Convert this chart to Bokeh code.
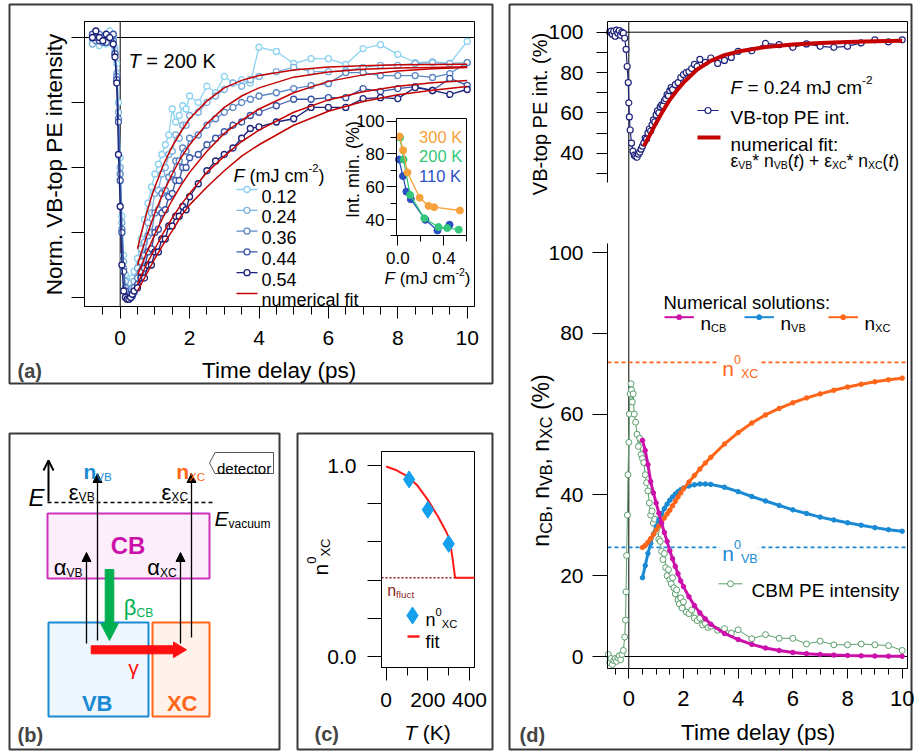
import math
from bokeh.plotting import figure
from bokeh.models import (Range1d, LinearAxis, FixedTicker, Label, Arrow,
                          NormalHead, OpenHead, NumeralTickFormatter)
from bokeh.embed import file_html
from bokeh.resources import INLINE

FONT = "Liberation Sans"

# ---------------- data: panel (a) ----------------
t_a = [-0.8, -0.7, -0.6, -0.5, -0.4, -0.3, -0.2, -0.15, -0.1, -0.05, 0.0, 0.05, 0.1, 0.15, 0.2, 0.25,
       0.3, 0.35, 0.4, 0.5, 0.6, 0.7, 0.8, 0.9, 1.0, 1.1, 1.2, 1.3, 1.4, 1.5, 1.6, 1.7, 1.8, 1.9, 2.0,
       2.25, 2.5, 2.75, 3.0, 3.25, 3.5, 3.75, 4.0, 4.5, 5.0, 5.5, 6.0, 6.5, 7.0, 7.5, 8.0, 8.5, 9.0,
       9.5, 10.0]
y_012 = [99, 101.5, 97.5, 100.5, 98, 102, 99.5, 97, 92, 80, 63, 45, 33, 27, 25, 24, 24.5, 26, 28,
         32, 38, 44, 49, 54, 58, 61, 64, 67, 70, 78, 74, 76, 79, 78, 82,
         80, 85, 83, 88, 86, 87, 86, 97, 95.7, 92, 93.5, 93.5, 91.7, 96.6, 97.8, 94.8, 92.3, 92.6, 92, 98.8]
y_024 = [98, 100, 101, 99, 100.5, 98.5, 100, 96, 89, 77, 60, 43, 31, 25, 22, 21, 21.5, 23, 25,
         29, 35, 37, 43, 46, 52, 53, 58, 60, 64, 65, 70, 69, 73, 73, 76,
         77, 80, 82, 84, 86, 85, 87, 88, 89.5, 90.8, 89.5, 89.5, 89.8, 90.8, 91.4, 91.4, 92, 92.3, 92, 92.3]
y_036 = [100, 99, 101, 98.5, 100, 100.5, 99, 95, 88, 75, 58, 41, 29, 23, 21, 20, 20, 21, 23,
         26, 31, 33, 39, 40, 46, 47, 52, 53, 57, 58, 62, 62, 66, 65, 69,
         70, 73, 75, 77, 78.5, 80, 81, 82, 83, 84.3, 85.2, 85.8, 89.2, 89.2, 88.3, 88.3, 88.3, 87.7, 88.9, 92.3]
y_044 = [101, 100, 99, 100, 98.5, 100, 101, 95, 87, 74, 56, 40, 28, 22, 20, 19.5, 20, 20.5, 21.5,
         24, 28, 29, 34, 35, 40, 41, 46, 47, 51, 52, 56, 56, 60, 60, 63,
         64, 67, 69, 71, 73, 74, 76, 77, 79, 81, 81, 81.5, 81.5, 84.3, 83.4, 84.3, 84.9, 83.7, 87.4, 85.3]
y_054 = [100, 102, 100, 99, 101, 100, 98, 94, 86, 64, 48, 30, 22, 20, 19.5, 19.5, 20, 21, 22,
         23, 26, 26, 30, 30, 34, 34, 38, 38, 42, 42, 45, 45, 48, 47, 51,
         55, 59, 62, 64, 66, 69, 72, 72.5, 74, 75, 78.5, 78.5, 78.5, 81.2, 81.5, 81.2, 84.6, 83.7, 82.5, 84]
fluences = ["0.12", "0.24", "0.36", "0.44", "0.54"]
fluence_colors = ["#8fd3f2", "#7db2df", "#5d88c6", "#3a56a8", "#1c2278"]

t_fit = [0.5, 0.6, 0.75, 0.9, 1.0, 1.25, 1.5, 1.75, 2.0, 2.5, 3.0, 3.5, 4.0, 5.0, 6.0, 7.0, 8.0, 9.0, 10.0]
fit_012 = [35, 39.5, 45.5, 51, 54, 61, 66.5, 71, 75, 80.5, 84.5, 86.8, 88.3, 90.0, 90.9, 91.3, 91.6, 91.7, 91.8]
fit_024 = [30, 33.5, 38.5, 43, 46, 52.5, 58, 63, 67, 73.5, 78.5, 82, 84.5, 87.8, 89.4, 90.2, 90.6, 90.8, 91.0]
fit_036 = [27, 29.5, 33.5, 37, 39.5, 45, 50, 54.5, 58.5, 65, 70.5, 74.5, 78, 83, 86.5, 88.5, 89.7, 90.4, 90.8]
fit_044 = [24, 26.5, 30, 33, 35, 40, 44.5, 48.5, 52, 58.5, 63.5, 68, 71.5, 77, 80.8, 83.3, 85, 86.1, 86.8]
fit_054 = [22, 24, 27, 30, 32, 36.5, 40.5, 45, 48.5, 54, 59, 63.5, 67, 73, 77.3, 80.3, 82.4, 83.8, 84.9]

# inset of (a)
F_300 = [0.015, 0.046, 0.084, 0.19, 0.267, 0.316, 0.54]
I_300 = [90.7, 82.2, 68.7, 53.3, 48.3, 47.5, 45.5]
F_200 = [0.02, 0.05, 0.107, 0.23, 0.354, 0.43, 0.53]
I_200 = [90, 76.6, 55, 40.8, 35.4, 34.8, 33.8]
F_110 = [0.01, 0.045, 0.075, 0.113, 0.24, 0.345, 0.45]
I_110 = [76.6, 66.5, 57, 52.4, 39.8, 33.3, 36.8]

# ---------------- data: panel (c) ----------------
T_pts = [110, 200, 300]
n0_pts = [0.927, 0.768, 0.59]
T_fitc = [0, 50, 100, 150, 200, 250, 285, 300, 310, 318, 325, 330, 332, 424]
n_fitc = [0.995, 0.975, 0.945, 0.895, 0.82, 0.73, 0.66, 0.625, 0.575, 0.52, 0.46, 0.42, 0.412, 0.412]
n_fluct = 0.412

# ---------------- data: panel (d) ----------------
t_vb = [-0.7, -0.65, -0.6, -0.55, -0.5, -0.45, -0.4, -0.35, -0.3, -0.25, -0.2, -0.15,
        -0.1, -0.06, -0.02, 0.0, 0.02, 0.05, 0.1,
        0.15, 0.2, 0.25, 0.3, 0.35, 0.4, 0.45, 0.5, 0.55, 0.6, 0.65, 0.7, 0.75, 0.8, 0.85, 0.9,
        0.95, 1.0, 1.05, 1.1, 1.15, 1.2, 1.25, 1.3, 1.35, 1.4, 1.45, 1.5, 1.55, 1.6,
        1.7, 1.8, 1.9, 2.0, 2.1, 2.2, 2.3, 2.4, 2.5, 2.6,
        2.8, 3.0, 3.25, 3.5, 3.75, 4.0,
        4.5, 5.0, 5.5, 6.0, 6.5, 7.0, 7.5, 8.0, 8.5, 9.0, 9.5, 10.0]
v_vb = [100, 100.5, 99, 100.5, 98, 101, 99.5, 100.8, 98.5, 100, 99.5, 97,
        91.5, 83, 75, 65, 58, 51.5, 45,
        41, 39, 38.5, 38, 39.5, 40.5, 42, 43.5, 45, 47.5, 47, 50, 52, 51, 54, 56.5,
        55.5, 59, 61, 60, 63, 64, 63.5, 66, 67, 69, 68.5, 71, 72.5, 71.5,
        74, 75, 77.5, 79, 80, 80.5, 82, 84, 83, 86.5,
        85, 87.2, 84.5, 86, 87.5, 90.5,
        90.8, 94.5, 93.8, 92.5, 94.2, 93, 92.5, 93, 94.7, 96.2, 95.2, 96.2]
t_fitd = [0.55, 0.75, 1.0, 1.25, 1.5, 1.75, 2.0, 2.5, 3.0, 3.5, 4.0, 5.0, 6.0, 7.0, 8.0, 9.0, 10.0]
v_fitd = [43.5, 48.5, 55, 61, 66.5, 71, 75, 81.5, 85.8, 88.6, 90.4, 92.7, 93.9, 94.7, 95.1, 95.5, 95.7]

cbm_t = [-0.75, -0.7, -0.65, -0.6, -0.55, -0.5, -0.45, -0.4, -0.35, -0.3, -0.25, -0.2,
         -0.15, -0.12, -0.1, -0.08, -0.05, -0.03, 0.0, 0.02, 0.05, 0.08,
         0.1, 0.13, 0.16, 0.2, 0.25, 0.3, 0.35, 0.4, 0.45, 0.5,
         0.55, 0.6, 0.65, 0.7, 0.75, 0.8, 0.85, 0.9, 0.95, 1.0,
         1.05, 1.1, 1.15, 1.2, 1.25, 1.3, 1.35, 1.4, 1.45, 1.5,
         1.55, 1.6, 1.65, 1.7, 1.75, 1.8, 1.85, 1.9, 1.95, 2.0,
         2.1, 2.2, 2.3, 2.4, 2.5, 2.6, 2.7, 2.8, 2.9, 3.0,
         3.25, 3.5, 3.75, 4.0, 4.5, 5.0, 5.5, 6.0, 6.5, 7.0,
         7.5, 8.0, 8.5, 9.0, 9.5, 10.0]
cbm_v = [0.5, -1.5, -0.5, -2, -1, -0.5, -1.2, -0.3, 0.2, -0.8, 0.5, 1.5,
         4.8, 9, 16, 25, 35, 45, 53, 60, 65, 67.5,
         66, 63, 65, 60, 58, 55, 52, 54, 50, 49,
         48, 45, 43, 41, 38, 35, 36, 33, 34, 31,
         32, 29, 28.5, 26, 24, 25.5, 22, 20, 21.5, 19,
         18, 19.5, 17, 15.5, 16.5, 14, 13, 14.5, 12, 13.5,
         11, 10.6, 11.5, 9.5, 8.9, 9.5, 7.8, 8.2, 7.2, 7.5,
         6.5, 6.9, 5.8, 6.6, 4.4, 5.4, 4.5, 4.5, 3.1, 3.8,
         2.9, 2.9, 3.1, 2.9, 2.7, 1.5]

t_sol = [0.5, 0.6, 0.7, 0.8, 0.9, 1.0, 1.1, 1.2, 1.3, 1.4, 1.5, 1.6, 1.7, 1.8, 1.9, 2.0, 2.2, 2.4, 2.6,
         2.8, 3.0, 3.5, 4.0, 4.5, 5.0, 5.5, 6.0, 6.5, 7.0, 7.5, 8.0, 8.5, 9.0, 9.5, 10.0]
n_cb = [53.5, 51, 47.5, 43.3, 40.5, 38, 35.5, 33, 30.7, 28.5, 26.2, 24.2, 22.3, 20.5, 18.7, 17.3,
        14.8, 12.6, 10.8, 9.3, 8.0, 5.7, 4.2, 3.0, 2.1, 1.5, 1.0, 0.7, 0.5, 0.35, 0.25, 0.17, 0.12, 0.08, 0.05]
n_vb = [19.5, 22.5, 25.5, 28, 30.3, 32.2, 33.9, 35.3, 36.6, 37.7, 38.7, 39.5, 40.2, 40.8, 41.3, 41.7,
        42.2, 42.5, 42.7, 42.7, 42.6, 41.9, 40.8, 39.6, 38.5, 37.4, 36.3, 35.4, 34.5, 33.8, 33.1, 32.5,
        31.9, 31.4, 31.0]
n_xc = [27, 27.5, 28.3, 29.2, 30.2, 31.3, 32.3, 33.3, 34.3, 35.3, 36.2, 37.3, 38.4, 39.5, 40.5, 41.5,
        43.2, 44.8, 46.4, 47.9, 49.3, 52.6, 55.4, 57.8, 59.8, 61.4, 62.8, 64.0, 65.0, 65.9, 66.7, 67.4,
        68.0, 68.5, 68.9]
n0_xc = 72.8
n0_vb = 27.0

# colours
NAVY = "#20247c"
FITRED = "#c40000"
MAG = "#cc11aa"
BLUE = "#1a8ad4"
ORANGE = "#ff6619"
GREEN = "#5a9e6a"

# ---------------- canvas (page pixel coordinates) ----------------
W, H = 914, 751


def X(rx):
    return float(rx)


def Y(ry):
    return float(ry)


p = figure(width=W, height=H, x_range=Range1d(0, W), y_range=Range1d(H, 0),
           x_axis_type=None, y_axis_type=None, min_border=0,
           toolbar_location=None, output_backend="svg")
p.outline_line_color = None
p.background_fill_color = "white"
p.border_fill_color = "white"


class Sub:
    def __init__(self, name, xd0, xr0, xd1, xr1, yd0, yr0, yd1, yr1):
        self.xn, self.yn = name + "_x", name + "_y"
        c0, c1 = X(xr0), X(xr1)
        self.kx, self.cx0, self.xd0 = (xd1 - xd0) / (c1 - c0), c0, xd0
        r0, r1 = Y(yr0), Y(yr1)
        self.ky, self.cy0, self.yd0 = (yd1 - yd0) / (r1 - r0), r0, yd0
        p.extra_x_ranges = {**p.extra_x_ranges, self.xn: Range1d(self.vx(0), self.vx(W))}
        p.extra_y_ranges = {**p.extra_y_ranges, self.yn: Range1d(self.vy(H), self.vy(0))}

    def vx(self, c):
        return self.xd0 + (c - self.cx0) * self.kx

    def vy(self, c):
        return self.yd0 + (c - self.cy0) * self.ky

    def dx(self, rx):
        return self.vx(X(rx))

    def dy(self, ry):
        return self.vy(Y(ry))

    def kw(self):
        return dict(x_range_name=self.xn, y_range_name=self.yn)


def axis(sub, side, loc, bounds, major, minor, tick_out, minor_out, standoff, size,
         fmt=None, hide_labels=False):
    ax = LinearAxis(x_range_name=sub.xn, y_range_name=sub.yn, fixed_location=loc,
                    bounds=bounds, ticker=FixedTicker(ticks=major, minor_ticks=minor))
    ax.axis_line_color = "black"
    ax.axis_line_width = 1
    ax.major_tick_in = 0
    ax.major_tick_out = tick_out
    ax.minor_tick_in = 0
    ax.minor_tick_out = minor_out
    ax.major_tick_line_color = "black"
    ax.minor_tick_line_color = "black"
    ax.major_tick_line_width = 1
    ax.minor_tick_line_width = 1
    ax.major_label_standoff = standoff
    ax.major_label_text_font = FONT
    ax.major_label_text_font_size = size
    ax.major_label_text_color = None if hide_labels else "black"
    if fmt is not None:
        ax.formatter = fmt
    p.add_layout(ax, side)
    return ax


WID = {' ': 278, '(': 333, ')': 333, '*': 389, '+': 584, ',': 278, '-': 333, '.': 278, ':': 278,
       '=': 584, '%': 889, 'A': 667, 'B': 667, 'C': 722, 'E': 667, 'F': 611, 'I': 278, 'J': 500,
       'K': 667, 'M': 833, 'N': 722, 'P': 667, 'T': 611, 'V': 667, 'X': 667,
       'a': 556, 'b': 556, 'c': 500, 'd': 556, 'e': 556, 'f': 278, 'i': 222, 'l': 222, 'm': 833,
       'n': 556, 'o': 556, 'p': 556, 'r': 333, 's': 500, 't': 278, 'u': 556, 'v': 500, 'y': 500,
       'α': 578, 'β': 575, 'γ': 500, 'ε': 446}
for _d in "0123456789":
    WID[_d] = 556
WIDB = {'n': 611, 'B': 722, 'C': 722, 'V': 667, 'X': 667, '(': 333, ')': 333, 'a': 556,
        'b': 611, 'c': 556, 'd': 611}


def tw(s, size, bold=False):
    t = 0
    for ch in s:
        t += WIDB.get(ch, WID.get(ch, 556)) if bold else WID.get(ch, 556)
    return t * size / 1000.0


def rich(rx, ry, pieces, size, color="black", angle=0.0, align="left", subr=0.62):
    ax0, ay0 = X(rx), Y(ry)
    ux, uy = math.cos(angle), -math.sin(angle)
    vx, vy = math.sin(angle), math.cos(angle)
    items, total = [], 0.0
    for pc in pieces:
        txt = pc[0]
        kind = pc[1] if len(pc) > 1 else "n"
        style = pc[2] if len(pc) > 2 else "normal"
        if kind == "n":
            fs, sh = size, 0.0
        elif kind == "sub":
            fs, sh = size * subr, size * 0.24
        else:
            fs, sh = size * subr, -size * 0.42
        items.append((txt, fs, sh, style, total))
        total += tw(txt, fs, "bold" in style)
    start = {"left": 0.0, "center": -total / 2.0, "right": -total}[align]
    for txt, fs, sh, style, off in items:
        d = start + off
        p.add_layout(Label(x=ax0 + d * ux + sh * vx, y=ay0 + d * uy + sh * vy,
                           text=txt.replace(" ", "\u00a0"),
                           angle=angle, text_font=FONT, text_font_size="%.1fpx" % fs,
                           text_font_style=style, text_color=color, text_align="left",
                           text_baseline="alphabetic"))


def seg(x0, y0, x1, y1, color="black", width=1.0, dash="solid"):
    p.line([X(x0), X(x1)], [Y(y0), Y(y1)], line_color=color, line_width=width, line_dash=dash)


def box(l, t, r, b, fill=None, line="#3a3a3a", width=2.0):
    p.quad(left=[X(l)], right=[X(r)], top=[Y(t)], bottom=[Y(b)], fill_color=fill,
           line_color=line, line_width=width)


# ---------------- outer panel boxes ----------------
box(9, 4, 492, 383)
box(9, 433, 279, 749)
box(297, 433, 492, 749)
box(509, 4, 911, 749)

# ================= panel (a) =================
A = Sub("a", 0, 119.7, 10, 466.7, 100, 37, 20, 297)
ax_l, ax_r, ay_b, ay_t = A.dx(84), A.dx(474), A.dy(306), A.dy(21)
p.quad(left=[ax_l], right=[ax_r], top=[ay_t], bottom=[ay_b], fill_color=None,
       line_color="black", line_width=1, **A.kw())
p.line([ax_l, ax_r], [100, 100], line_color="black", line_width=1, **A.kw())
p.line([0, 0], [ay_b, ay_t], line_color="black", line_width=1, **A.kw())

series_a = [y_012, y_024, y_036, y_044, y_054]
for ys, c in zip(series_a, fluence_colors):
    p.line(t_a, ys, line_color=c, line_width=1.3, **A.kw())
    p.scatter(t_a, ys, marker="circle", size=6, fill_color="white", line_color=c,
              line_width=1.3, **A.kw())
for fy in [fit_012, fit_024, fit_036, fit_044, fit_054]:
    p.line(t_fit, fy, line_color=FITRED, line_width=1.5, **A.kw())

axis(A, "below", ay_b, (ax_l, ax_r), [0, 2, 4, 6, 8, 10],
     [-0.5, 0.5, 1, 1.5, 2.5, 3, 3.5, 4.5, 5, 5.5, 6.5, 7, 7.5, 8.5, 9, 9.5], 12, 8, 12, "21px")
axis(A, "left", ax_l, (ay_b, ay_t), [20, 40, 60, 80, 100], [], 13, 0, 5, "21px", hide_labels=True)

rich(128, 60.6, [("T", "n", "italic"), (" = 200 K",)], 20)
rich(279, 370, [("Time delay (ps)",)], 22.5, align="center")
rich(53.5, 164, [("Norm. VB-top PE intensity",)], 22.5, angle=math.pi / 2, align="center")
p.add_layout(Label(x=X(17), y=Y(370), text="(a)", text_font=FONT, text_font_size="20px",
                   text_font_style="bold", text_baseline="alphabetic"))

# legend (a)
rich(233, 175.5, [("F", "n", "italic"), (" (mJ cm",), ("-2", "sup"), (")",)], 18)
for i, (lab, c) in enumerate(zip(fluences, fluence_colors)):
    yc = 189 + 20.8 * i
    seg(236, yc, 257, yc, color=c, width=1.3)
    p.scatter([X(246.5)], [Y(yc)], marker="circle", size=6, fill_color="white", line_color=c,
              line_width=1.3)
    rich(261, yc + 6.5, [(lab,)], 18)
seg(236, 293, 257, 293, color=FITRED, width=1.5)
rich(261, 299.5, [("numerical fit",)], 18)

# inset (a)
I = Sub("ins", 0, 397.3, 0.4, 443.3, 100, 120.7, 40, 219)
il, ir, ib, it = I.dx(396), I.dx(466), I.dy(235), I.dy(118)
p.quad(left=[il], right=[ir], top=[it], bottom=[ib], fill_color="white", line_color="black",
       line_width=1, **I.kw())
for F, V, c in [(F_110, I_110, "#2a4fc2"), (F_200, I_200, "#34c77b"), (F_300, I_300, "#f7a23c")]:
    p.line(F, V, line_color=c, line_width=1.3, **I.kw())
    p.scatter(F, V, marker="circle", size=7, fill_color=c, line_color=c, **I.kw())
axis(I, "below", ib, (il, ir), [0, 0.4], [0.2, 0.6], 10, 6, 6, "17px",
     fmt=NumeralTickFormatter(format="0.0"))
axis(I, "left", il, (ib, it), [40, 60, 80, 100], [30, 50, 70, 90], 10, 6, 2, "17px")
rich(461.7, 136, [("300 K",)], 16.5, color="#f7a23c", align="right")
rich(461.7, 155.5, [("200 K",)], 16.5, color="#34c77b", align="right")
rich(461.7, 175.5, [("110 K",)], 16.5, color="#2a4fc2", align="right")
rich(352, 169, [("Int. min. (%)",)], 18, angle=math.pi / 2, align="center")
rich(427, 278.3, [("F", "n", "italic"), (" (mJ cm",), ("-2", "sup"), (")",)], 17, align="center")

# ================= panel (b) =================
box(47, 513, 209, 578, fill="#fdeefb", line="#cc33bb", width=2)
box(48, 622, 148, 716, fill="#eef7fd", line=BLUE, width=2)
box(152, 622, 209, 716, fill="#fff2ea", line=ORANGE, width=2)
seg(47, 502, 213, 502, width=1.5, dash="4 3")
for xx, y0, y1 in [(97, 640, 473), (86, 643, 552), (191, 637, 473), (180, 643, 552)]:
    p.add_layout(Arrow(end=NormalHead(size=9, fill_color="black", line_color="black", line_width=1),
                       x_start=X(xx), y_start=Y(y0), x_end=X(xx), y_end=Y(y1), line_width=1.3))
p.add_layout(Arrow(end=OpenHead(size=10, line_width=2), x_start=X(48), y_start=Y(501),
                   x_end=X(48), y_end=Y(460), line_width=2))
gx = [104.7, 113.3, 113.3, 117.8, 109, 100.2, 104.7]
gy = [569, 569, 623, 623, 640, 623, 623]
p.patch([X(v) for v in gx], [Y(v) for v in gy], fill_color="#00b050", line_color="#00b050")
rx_ = [90.7, 173, 173, 186, 173, 173, 90.7]
ry_ = [645.3, 645.3, 641.5, 649.3, 657.1, 653.3, 653.3]
p.patch([X(v) for v in rx_], [Y(v) for v in ry_], fill_color="#ff1010", line_color="#ff1010")
tx_ = [209, 214.5, 273, 273, 214.5]
ty_ = [462.5, 452, 452, 473, 473]
p.patch([X(v) for v in tx_], [Y(v) for v in ty_], fill_color="white", line_color="#555555",
        line_width=1)
rich(216.5, 468, [("detector",)], 15)

rich(28, 497, [("E", "n", "italic")], 24)
rich(83, 470.5, [("n", "n", "bold"), ("VB", "sub")], 21, color=BLUE, subr=0.55)
rich(175.7, 470.5, [("n", "n", "bold"), ("XC", "sub")], 21, color=ORANGE, subr=0.55)
rich(68.3, 491.5, [("ε",), ("VB", "sub")], 22, subr=0.55)
rich(161, 491.5, [("ε",), ("XC", "sub")], 22, subr=0.55)
rich(214, 518, [("E", "n", "italic"), ("vacuum", "sub")], 21, subr=0.57)
rich(127.5, 545, [("CB", "n", "bold")], 24, color=MAG, align="center")
rich(53.3, 567, [("α",), ("VB", "sub")], 22, subr=0.55)
rich(146.7, 567, [("α",), ("XC", "sub")], 22, subr=0.55)
rich(123.3, 607, [("β",), ("CB", "sub")], 22, color="#00b050", subr=0.55)
rich(96.7, 703.3, [("VB", "n", "bold")], 22, color=BLUE, align="center")
rich(181.7, 703.3, [("XC", "n", "bold")], 22, color=ORANGE, align="center")
rich(127.7, 667, [("γ",)], 21, color="#ff1010")
p.add_layout(Label(x=X(17), y=Y(734), text="(b)", text_font=FONT, text_font_size="20px",
                   text_font_style="bold", text_baseline="alphabetic"))

# ================= panel (c) =================
C = Sub("c", 0, 385.7, 400, 469, 0.0, 656, 1.0, 465)
cl, cr, cb, ct = C.dx(381), C.dx(474), C.dy(667), C.dy(451)
p.quad(left=[cl], right=[cr], top=[ct], bottom=[cb], fill_color=None, line_color="black",
       line_width=1, **C.kw())
p.line([cl, cr], [n_fluct, n_fluct], line_color="#8b1c1c", line_width=1.5, line_dash="2 2",
       **C.kw())
p.line(T_fitc, n_fitc, line_color="#ff1a1a", line_width=2, **C.kw())
p.scatter(T_pts, n0_pts, marker="diamond", size=17, fill_color="#15a0ee", line_color="#15a0ee",
          **C.kw())
axis(C, "below", cb, (cl, cr), [0, 200, 400], [100, 300], 13, 8, 12, "21px")
axis(C, "left", cl, (cb, ct), [0, 1], [0.2, 0.4, 0.6, 0.8], 14, 14, 11, "21px",
     fmt=NumeralTickFormatter(format="0.0"))
rich(386.7, 590, [("n",), ("fluct", "sub")], 16, color="#8b1c1c")
p.scatter([X(412)], [Y(615)], marker="diamond", size=17, fill_color="#15a0ee",
          line_color="#15a0ee")
rich(425, 619.3, [("n",), ("0", "sup"), ("XC", "sub")], 18)
seg(407, 636, 419, 636, color="#ff1a1a", width=2.5)
rich(425, 641.7, [("fit",)], 18)
rich(320, 575, [("n",), ("0", "sup"), ("XC", "sub")], 21, angle=math.pi / 2)
rich(427, 731.7, [("T", "n", "italic"), (" (K)",)], 21, align="center")
p.add_layout(Label(x=X(314), y=Y(733), text="(c)", text_font=FONT, text_font_size="20px",
                   text_font_style="bold", text_baseline="alphabetic"))

# ================= panel (d) =================
DT = Sub("dt", 0, 628.3, 10, 901.7, 100, 31.7, 40, 152.7)
DB = Sub("db", 0, 628.3, 10, 901.7, 0, 656, 100, 252)
dl, dr = DB.dx(607), DB.dx(907)
fx = [607, 907, 907, 607]
fy = [21, 21, 668, 668]
p.line([X(v) for v in fx], [Y(v) for v in fy], line_color="black", line_width=1)
p.line([0, 0], [DB.dy(668), DB.dy(21)], line_color="black", line_width=1, **DB.kw())
p.line([dl, dr], [100, 100], line_color="black", line_width=1, **DT.kw())
p.line([dl, dr], [0, 0], line_color="black", line_width=1, **DB.kw())
p.line([dl, dr], [n0_xc, n0_xc], line_color=ORANGE, line_width=1.6, line_dash="4 3", **DB.kw())
p.line([dl, dr], [n0_vb, n0_vb], line_color=BLUE, line_width=1.6, line_dash="4 3", **DB.kw())
box(719, 346, 758, 376, fill="white", line=None)
box(719, 531, 758, 561, fill="white", line=None)

p.line(cbm_t, cbm_v, line_color=GREEN, line_width=1, **DB.kw())
p.scatter(cbm_t, cbm_v, marker="circle", size=6, fill_color="white", line_color=GREEN,
          line_width=1, **DB.kw())
for ys, c in [(n_vb, BLUE), (n_xc, ORANGE), (n_cb, MAG)]:
    p.line(t_sol, ys, line_color=c, line_width=3, **DB.kw())
    p.scatter(t_sol, ys, marker="circle", size=4.5, fill_color=c, line_color=c, **DB.kw())

p.line(t_vb, v_vb, line_color=NAVY, line_width=1.2, **DT.kw())
p.scatter(t_vb, v_vb, marker="circle", size=6, fill_color="white", line_color=NAVY,
          line_width=1.2, **DT.kw())
p.line(t_fitd, v_fitd, line_color=FITRED, line_width=4, **DT.kw())

axis(DB, "below", DB.dy(668), (dl, dr), [0, 2, 4, 6, 8, 10],
     [-0.5, 0.5, 1, 1.5, 2.5, 3, 3.5, 4.5, 5, 5.5, 6.5, 7, 7.5, 8.5, 9, 9.5], 10, 6, 12, "22px")
axis(DT, "left", DT.dx(607), (DT.dy(182), DT.dy(21)), [40, 60, 80, 100], [30, 50, 70, 90],
     11, 11, 13, "21px")
axis(DB, "left", DB.dx(607), (DB.dy(668), DB.dy(243)), [0, 20, 40, 60, 80, 100], [],
     15, 0, 9, "21px")

# legends (d)
rich(730, 87.3, [("F", "n", "italic"), (" = 0.24 mJ cm",), ("-2", "sup")], 19)
seg(697, 110, 718, 110, color=NAVY, width=1.2)
p.scatter([X(707.5)], [Y(110)], marker="circle", size=6, fill_color="white", line_color=NAVY,
          line_width=1.2)
rich(730, 116.7, [("VB-top PE int.",)], 19)
seg(697, 137, 720, 137, color=FITRED, width=4)
rich(730, 143.5, [("numerical fit:",)], 19)
rich(730, 160.5, [("ε",), ("VB", "sub"), ("*",), (" n",), ("VB", "sub"), ("(",),
                  ("t", "n", "italic"), (") + ",), ("ε",), ("XC", "sub"), ("*",), (" n",),
                  ("XC", "sub"), ("(",), ("t", "n", "italic"), (")",)], 17.5, subr=0.6)

rich(663, 302, [("Numerical solutions:",)], 18.5)
for x0, c, sub in [(664, MAG, "CB"), (744, BLUE, "VB"), (828, ORANGE, "XC")]:
    seg(x0, 316.7, x0 + 29.5, 316.7, color=c, width=2)
    p.scatter([X(x0 + 14.7)], [Y(316.7)], marker="circle", size=5, fill_color=c, line_color=c)
    rich(x0 + 36, 323, [("n",), (sub, "sub")], 19, subr=0.58)
rich(721.7, 368.3, [("n",), ("0", "sup"), ("XC", "sub")], 21, color=ORANGE, subr=0.6)
rich(721.7, 553, [("n",), ("0", "sup"), ("VB", "sub")], 21, color=BLUE, subr=0.6)
seg(718, 583.3, 742, 583.3, color=GREEN, width=1)
p.scatter([X(730)], [Y(583.3)], marker="circle", size=6, fill_color="white", line_color=GREEN,
          line_width=1)
rich(751, 590, [("CBM PE intensity",)], 19)

rich(758, 731.7, [("Time delay (ps)",)], 22.5, align="center")
rich(539.5, 113.5, [("VB-top PE int. (%)",)], 20, angle=math.pi / 2, align="center")
rich(540, 460, [("n",), ("CB", "sub"), (", n",), ("VB", "sub"), (", n",), ("XC", "sub"),
                (" (%)",)], 23, angle=math.pi / 2, align="center", subr=0.7)
p.add_layout(Label(x=X(519), y=Y(734), text="(d)", text_font=FONT, text_font_size="20px",
                   text_font_style="bold", text_baseline="alphabetic"))

open("out.html", "w").write(file_html(p, INLINE))
